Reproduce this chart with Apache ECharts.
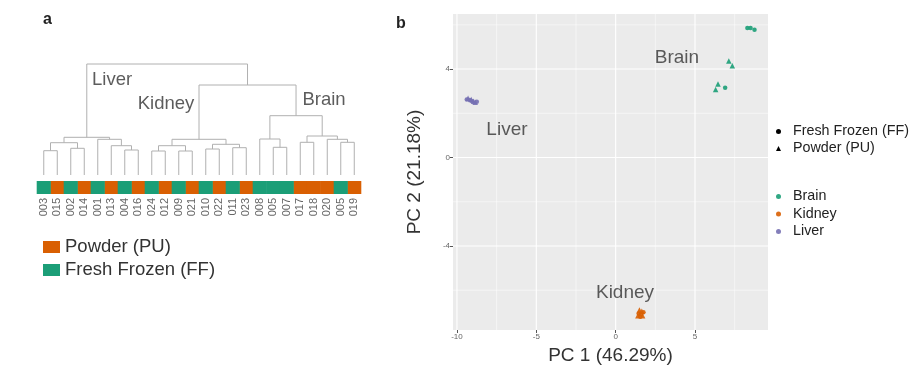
<!DOCTYPE html>
<html><head><meta charset="utf-8">
<script src="https://cdn.jsdelivr.net/npm/echarts@6/dist/echarts.min.js"></script>
<style>html,body{margin:0;padding:0;background:#fff}#c{width:915px;height:374px}</style>
</head><body><div id="c"></div>
<script>
// ---------- Panel a: dendrogram ----------
const leafLabels = ['003','015','002','014','001','013','004','016','024','012','009','021','010','022','011','023','008','005','007','017','018','020','005','019'];
const leafType   = ['FF','PU','FF','PU','FF','PU','FF','PU','FF','PU','FF','PU','FF','PU','FF','PU','FF','FF','FF','PU','PU','PU','FF','PU'];
// hclust-style merges: negative = leaf (1-based), positive = earlier merge row; third = height
const merges = [
  [-1,-2,0.243],[-3,-4,0.267],[1,2,0.323],[-7,-8,0.25],[-6,4,0.293],[-5,5,0.357],[3,6,0.377],
  [-9,-10,0.24],[-11,-12,0.24],[8,9,0.293],[-13,-14,0.26],[-15,-16,0.273],[11,12,0.307],[10,13,0.357],
  [-18,-19,0.277],[-17,15,0.36],[-20,-21,0.327],[-23,-24,0.327],[-22,18,0.357],[17,19,0.39],[16,20,0.593],
  [14,21,0.90],[7,22,1.11]
];
const clusterNames = ['Liver','Kidney','Brain'];
const clusterLabelPos = [[5.06,0.95],[9.06,0.71],[20.76,0.75]];

// ---------- Panel b: PCA ----------
const brainFF  = [[8.3,5.86],[8.5,5.86],[8.75,5.78],[6.9,3.15]];
const brainPU  = [[7.13,4.36],[7.35,4.15],[6.45,3.33],[6.3,3.08]];
const kidneyFF = [[1.45,-7.05],[1.6,-7.1],[1.75,-7.0],[1.55,-7.2]];
const kidneyPU = [[1.5,-6.9],[1.65,-6.95],[1.4,-7.15],[1.7,-7.15]];
const liverFF  = [[-9.38,2.62],[-9.2,2.6],[-9.05,2.55],[-8.75,2.52]];
const liverPU  = [[-9.3,2.68],[-9.1,2.62],[-8.95,2.55],[-8.85,2.5]];
const tissueLabels = ['Brain','Liver','Kidney'];
const tissueLabelPos = [[3.86,4.5],[-6.85,1.24],[0.59,-6.1]];
const xTicks = [-10,-5,0,5];
const yTicks = [-4,0,4];
const xMinor = [-7.5,-2.5,2.5,7.5];
const yMinor = [-6,-2,2,6];

const C = {Brain:'#1b9e77', Kidney:'#d95f02', Liver:'#7570b3', FF:'#1b9e77', PU:'#d95f02'};
const FONT = 'Liberation Sans, Arial, sans-serif';

// build dendrogram segments
const mx = [], segs = [];
merges.forEach((m) => {
  const nx = id => id < 0 ? (-id - 1) : mx[id - 1];
  const nh = id => id < 0 ? 0 : merges[id - 1][2];
  const xa = nx(m[0]), xb = nx(m[1]);
  segs.push([xa, nh(m[0]), xb, nh(m[1]), m[2]]);
  mx.push((xa + xb) / 2);
});

const chart = echarts.init(document.getElementById('c'));

function bar(type) {
  return {
    name: type === 'PU' ? 'Powder (PU)' : 'Fresh Frozen (FF)',
    type: 'custom', xAxisIndex: 1, yAxisIndex: 0,
    itemStyle: {color: C[type]},
    data: leafType.map((t, i) => t === type ? [i] : null).filter(d => d),
    renderItem: (params, api) => {
      const a = api.coord([api.value(0), -0.06]);
      const b = api.coord([api.value(0), -0.19]);
      const w = api.size([1, 0])[0];
      return {type: 'rect', shape: {x: a[0] - w / 2 - 0.3, y: a[1], width: w + 0.6, height: b[1] - a[1]},
              style: {fill: C[type]}};
    }
  };
}

function gridLines(vals, dir, width) {
  return {
    type: 'custom', xAxisIndex: 2, yAxisIndex: 1, silent: true, z: 1,
    data: vals.map(v => [v]),
    renderItem: (params, api) => {
      const cs = params.coordSys;
      if (dir === 'v') {
        const x = api.coord([api.value(0), 0])[0];
        return {type: 'line', shape: {x1: x, y1: cs.y, x2: x, y2: cs.y + cs.height}, style: {stroke: '#fff', lineWidth: width}};
      }
      const y = api.coord([0, api.value(0)])[1];
      return {type: 'line', shape: {x1: cs.x, y1: y, x2: cs.x + cs.width, y2: y}, style: {stroke: '#fff', lineWidth: width}};
    }
  };
}

function tissue(name, ff, pu) {
  return {
    name, type: 'scatter', xAxisIndex: 2, yAxisIndex: 1, z: 3,
    itemStyle: {color: C[name], opacity: 0.9},
    data: ff.map(p => ({value: p, symbol: 'circle', symbolSize: 4.5}))
      .concat(pu.map(p => ({value: p, symbol: 'triangle', symbolSize: 5.5})))
  };
}

chart.setOption({
  animation: false,
  backgroundColor: '#fff',
  title: [
    {text: 'a', left: 38, top: 7, textStyle: {fontSize: 16, fontWeight: 'bold', color: '#222', fontFamily: FONT}},
    {text: 'b', left: 391, top: 11, textStyle: {fontSize: 16, fontWeight: 'bold', color: '#222', fontFamily: FONT}}
  ],
  grid: [
    {left: 37, top: 64, width: 324, height: 130, show: false},
    {left: 453, top: 14, width: 315, height: 316, show: true, backgroundColor: '#ebebeb', borderWidth: 0}
  ],
  xAxis: [
    {type: 'value', gridIndex: 0, min: -0.5, max: 23.5, show: false},
    {type: 'category', gridIndex: 0, data: leafLabels, position: 'bottom',
     axisLine: {show: false}, axisTick: {show: false}, splitLine: {show: false},
     axisLabel: {rotate: 90, interval: 0, margin: 4, fontSize: 11, color: '#666', fontFamily: FONT}},
    {type: 'value', gridIndex: 1, min: -10.25, max: 9.6, position: 'bottom',
     axisLine: {show: false, onZero: false}, splitLine: {show: false},
     axisTick: {show: true, length: 3, customValues: xTicks, lineStyle: {color: '#555'}},
     axisLabel: {customValues: xTicks, fontSize: 8, color: '#666', margin: 3, fontFamily: FONT},
     name: 'PC 1 (46.29%)', nameLocation: 'middle', nameGap: 15,
     nameTextStyle: {fontSize: 19, color: '#333', fontFamily: FONT}}
  ],
  yAxis: [
    {type: 'value', gridIndex: 0, min: -0.19, max: 1.11, show: false},
    {type: 'value', gridIndex: 1, min: -7.8, max: 6.49, position: 'left',
     axisLine: {show: false, onZero: false}, splitLine: {show: false},
     axisTick: {show: true, length: 3, customValues: yTicks, lineStyle: {color: '#555'}},
     axisLabel: {customValues: yTicks, fontSize: 8, color: '#666', margin: 3, fontFamily: FONT},
     name: 'PC 2 (21.18%)', nameLocation: 'middle', nameGap: 29,
     nameTextStyle: {fontSize: 19, color: '#333', fontFamily: FONT}}
  ],
  legend: [
    {orient: 'vertical', left: 38, top: 232, itemWidth: 17, itemHeight: 12, itemGap: 3,
     textStyle: {fontSize: 18.5, color: '#333', lineHeight: 20, fontFamily: FONT},
     data: [{name: 'Powder (PU)', icon: 'rect', itemStyle: {color: C.PU}},
            {name: 'Fresh Frozen (FF)', icon: 'rect', itemStyle: {color: C.FF}}]},
    {orient: 'vertical', left: 776, top: 124, padding: 0, itemWidth: 5, itemHeight: 5, itemGap: 2,
     textStyle: {fontSize: 14.3, color: '#222', lineHeight: 15, padding: [0, 0, 0, 7], fontFamily: FONT},
     data: [{name: 'Fresh Frozen (FF)', icon: 'circle', itemStyle: {color: '#000'}},
            {name: 'Powder (PU)', icon: 'triangle', itemStyle: {color: '#000'}}]},
    {orient: 'vertical', left: 776, top: 189, padding: 0, itemWidth: 5, itemHeight: 5, itemGap: 2.5,
     textStyle: {fontSize: 14.3, color: '#222', lineHeight: 15, padding: [0, 0, 0, 7], fontFamily: FONT},
     data: [{name: 'Brain', icon: 'circle', itemStyle: {color: C.Brain}},
            {name: 'Kidney', icon: 'circle', itemStyle: {color: C.Kidney}},
            {name: 'Liver', icon: 'circle', itemStyle: {color: C.Liver}}]}
  ],
  series: [
    {type: 'custom', xAxisIndex: 0, yAxisIndex: 0, silent: true, data: segs,
     renderItem: (params, api) => {
       const p1 = api.coord([api.value(0), api.value(1)]);
       const p2 = api.coord([api.value(0), api.value(4)]);
       const p3 = api.coord([api.value(2), api.value(4)]);
       const p4 = api.coord([api.value(2), api.value(3)]);
       return {type: 'polyline', shape: {points: [p1, p2, p3, p4]}, style: {stroke: '#b0b0b0', lineWidth: 1, fill: null}};
     }},
    bar('PU'), bar('FF'),
    {type: 'scatter', xAxisIndex: 0, yAxisIndex: 0, symbolSize: 0, silent: true,
     data: clusterNames.map((n, i) => ({name: n, value: clusterLabelPos[i]})),
     label: {show: true, position: 'inside', formatter: p => p.name, fontSize: 18.5, color: '#333', fontFamily: FONT}},
    gridLines(xMinor, 'v', 0.5), gridLines(yMinor, 'h', 0.5),
    gridLines(xTicks, 'v', 1.1), gridLines(yTicks, 'h', 1.1),
    tissue('Brain', brainFF, brainPU),
    tissue('Kidney', kidneyFF, kidneyPU),
    tissue('Liver', liverFF, liverPU),
    {type: 'scatter', xAxisIndex: 2, yAxisIndex: 1, symbolSize: 0, silent: true, z: 4,
     data: tissueLabels.map((n, i) => ({name: n, value: tissueLabelPos[i]})),
     label: {show: true, position: 'inside', formatter: p => p.name, fontSize: 19, color: '#333', fontFamily: FONT}}
  ]
});
</script></body></html>
